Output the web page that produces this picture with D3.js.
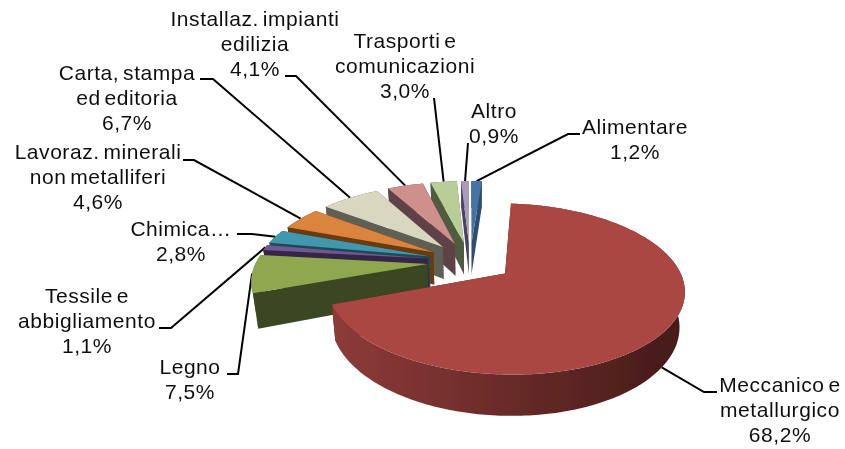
<!DOCTYPE html>
<html><head><meta charset="utf-8">
<script src="https://cdn.jsdelivr.net/npm/d3@7"></script>
<style>html,body{margin:0;background:#fff}text{font-family:"Liberation Sans",Arial,sans-serif;font-size:21px;letter-spacing:.55px;word-spacing:-2.5px;fill:#111}</style>
</head><body><svg id="c" width="845" height="449"></svg>
<script>
// data
const categories=["Alimentare","Meccanico e metallurgico","Legno","Tessile e abbigliamento","Chimica…","Lavoraz. minerali non metalliferi","Carta, stampa ed editoria","Installaz. impianti edilizia","Trasporti e comunicazioni","Altro"];
const values=[1.2,68.2,7.5,1.1,2.8,4.6,6.7,4.1,3.0,0.9];
const labelLines=[["Alimentare"],["Meccanico e","metallurgico"],["Legno"],["Tessile e","abbigliamento"],["Chimica…"],["Lavoraz. minerali","non metalliferi"],["Carta, stampa","ed editoria"],["Installaz. impianti","edilizia"],["Trasporti e","comunicazioni"],["Altro"]];
const valueLabels=["1,2%","68,2%","7,5%","1,1%","2,8%","4,6%","6,7%","4,1%","3,0%","0,9%"];
// style
const topColors=["#4572A7","#AA4643","#8FA850","#71588F","#4198AF","#DB843D","#DAD7C0","#CE8F8D","#B9CD96","#A99BBD"];
const sideLeft=["#2E4D73","#8E3B39","#3B4620","#362848","#1E4C58","#6B3A10","#5E5E52","#5F4344","#4F5B3F","#4B4262"];
const sideRight=["#2E4D73","#431A18","#3B4620","#362848","#1E4C58","#6B3A10","#5E5E52","#5F4344","#4F5B3F","#4B4262"];
// layout: [centre x, first baseline, leader points from label to slice]
const labelX=[635,780,190,87,181,98,127,255,405,494];
const labelY=[134,392,374,303,236,159,80,26,48,118];
const lineGap=24.8;
const elbows=[[[580,134],[568,134]],[[717,392],[704,392]],[[227,374],[238,374]],[[159,328],[171,328]],[[237,234],[252,234]],[[183,160],[194,160]],[[200,79],[213,79]],[[285,76],[296,76]],[[434,98]],[[468,143]]];
const leaderDepth=[0,1,0,0,0,0,0,0,0,0];

const O={x:470,y:261.5},rx=171,ry=78.5,k=0.175,depth=33,explode=0.25,taper=0.025;
function project(X,Y,z){const s=1/(1+k*Y);return [O.x+rx*X*s*(1-taper*z),O.y-ry*Y*s+depth*z*s];}
const svg=d3.select("#c");
const defs=svg.append("defs");
defs.append("filter").attr("id","soft").attr("x",0).attr("y",0).attr("width",1).attr("height",1).attr("filterUnits","objectBoundingBox")
  .append("feGaussianBlur").attr("stdDeviation",0.45);
const root=svg.append("g").attr("filter","url(#soft)");
root.append("rect").attr("width",845).attr("height",449).attr("fill","#fff");
const pie=d3.pie().sort(null).value(d=>d);
const arcs=pie(values);
const line=d3.line();
const slices=arcs.map((a,i)=>{const mid=(a.startAngle+a.endAngle)/2;
  return {i,a,mid,ax:explode*Math.sin(mid),ay:explode*Math.cos(mid)};});
function rim(s,ang,z){return project(s.ax+Math.sin(ang),s.ay+Math.cos(ang),z);}
function apex(s,z){return project(s.ax,s.ay,z);}

// wall gradients
slices.forEach(s=>{
  const gr=defs.append("linearGradient").attr("id","wall"+s.i).attr("gradientUnits","userSpaceOnUse")
    .attr("x1",330).attr("x2",690).attr("y1",0).attr("y2",0);
  gr.append("stop").attr("offset",0).attr("stop-color",sideLeft[s.i]);
  gr.append("stop").attr("offset",1).attr("stop-color",sideRight[s.i]);
});

// leaders behind the slices
const gL=root.append("g").attr("fill","none").attr("stroke","#000").attr("stroke-width",2);
slices.forEach(s=>{gL.append("path").attr("d",line([...elbows[s.i],rim(s,s.mid,leaderDepth[s.i])]));});

// slices back to front
const order=slices.slice().sort((p,q)=>q.ay-p.ay);
order.forEach(s=>{
  const g=root.append("g");const {startAngle:a0,endAngle:a1}=s.a;const i=s.i;
  [a0,a1].forEach(ang=>{
    const d=[apex(s,0),rim(s,ang,0),rim(s,ang,1),apex(s,1)];
    g.append("path").attr("d",line(d)+"Z").attr("fill",sideRight[i]);
  });
  const angs=d3.range(a0,a1,Math.PI/180).concat([a1]);
  const wall=[...angs.map(a=>rim(s,a,0)),...angs.slice().reverse().map(a=>rim(s,a,1))];
  g.append("path").attr("d",line(wall)+"Z").attr("fill",`url(#wall${i})`);
  const top=[apex(s,0),...angs.map(a=>rim(s,a,0))];
  g.append("path").attr("d",line(top)+"Z").attr("fill",topColors[i]);
});

// labels
const gT=root.append("g").attr("text-anchor","middle");
categories.forEach((c,i)=>{
  [...labelLines[i],valueLabels[i]].forEach((t,j)=>{
    gT.append("text").attr("x",labelX[i]).attr("y",labelY[i]+j*lineGap).text(t);
  });
});
</script></body></html>
